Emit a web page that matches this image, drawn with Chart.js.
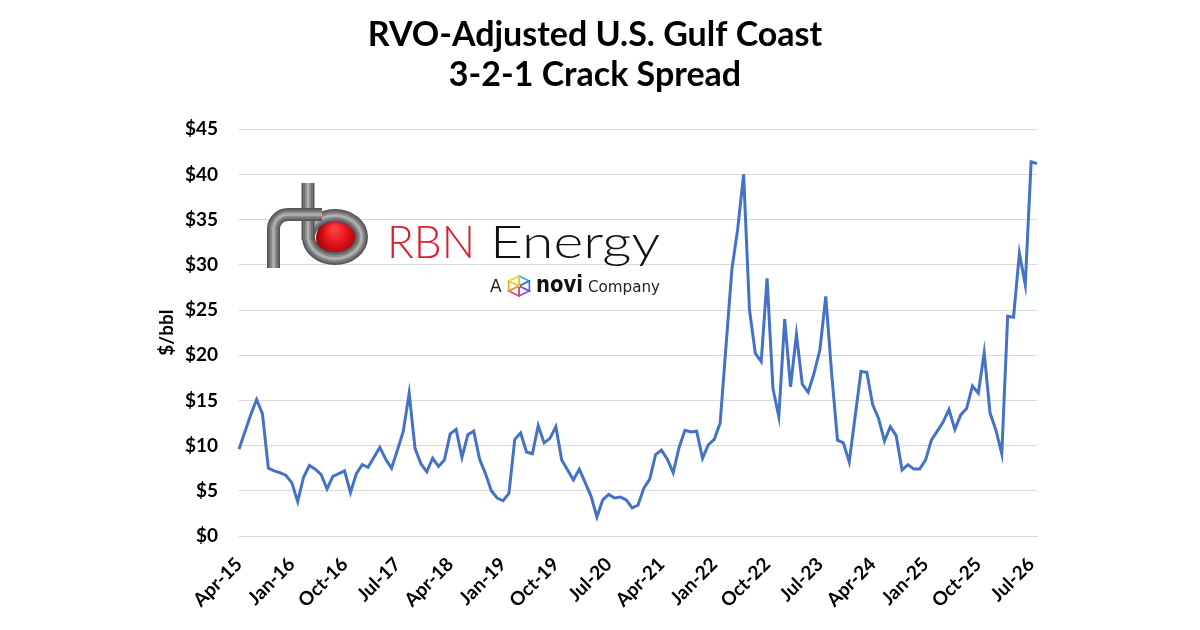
<!DOCTYPE html>
<html>
<head>
<meta charset="utf-8">
<script src="https://cdn.jsdelivr.net/npm/chart.js@4.4.1/dist/chart.umd.min.js"></script>
<style>
  html, body { margin: 0; padding: 0; background: #fff; }
  #wrap { width: 1200px; height: 630px; }
</style>
</head>
<body>
<div id="wrap"><canvas id="grafico" width="1200" height="630"></canvas></div>
<script>
// ==============================
// DATA
// ==============================
const START_YEAR = 2015;
const START_MONTH = 3; // April (0-based)
const MONTH_NAMES = ["Jan","Feb","Mar","Apr","May","Jun","Jul","Aug","Sep","Oct","Nov","Dec"];

const tickLabels = [
  "Apr-15","Jan-16","Oct-16","Jul-17","Apr-18","Jan-19","Oct-19","Jul-20",
  "Apr-21","Jan-22","Oct-22","Jul-23","Apr-24","Jan-25","Oct-25","Jul-26"
];

// $/bbl, monthly from Apr-15
const crackSpread = [
  9.6, 11.5, 13.4, 15.1, 13.5, 7.5, 7.2, 7.0, 6.7, 5.9,
  3.8, 6.5, 7.8, 7.4, 6.8, 5.2, 6.6, 6.9, 7.2, 4.8,
  6.9, 7.9, 7.6, 8.7, 9.8, 8.5, 7.5, 9.5, 11.6, 15.8,
  9.7, 8.0, 7.1, 8.6, 7.7, 8.4, 11.3, 11.8, 8.7, 11.2,
  11.6, 8.5, 6.9, 5.0, 4.2, 3.9, 4.7, 10.7, 11.4, 9.3,
  9.1, 12.2, 10.3, 10.8, 12.1, 8.4, 7.3, 6.2, 7.4, 5.9,
  4.4, 2.1, 4.0, 4.6, 4.2, 4.3, 4.0, 3.1, 3.4, 5.3,
  6.3, 9.0, 9.5, 8.5, 7.0, 9.8, 11.7, 11.5, 11.6, 8.6,
  10.1, 10.7, 12.5, 21.0, 29.5, 34.0, 40.0, 25.0, 20.2, 19.3,
  28.5, 16.3, 13.2, 24.0, 16.5, 22.3, 16.8, 15.9, 18.0, 20.6,
  26.5, 18.0, 10.6, 10.3, 8.2, 13.2, 18.2, 18.1, 14.5, 13.0,
  10.5, 12.1, 11.1, 7.3, 7.9, 7.4, 7.4, 8.4, 10.6, 11.6,
  12.6, 14.0, 11.8, 13.4, 14.1, 16.6, 15.8, 20.3, 13.6, 11.7,
  9.1, 24.3, 24.2, 31.3, 27.8, 41.4, 41.2
];

const yTicks = [0, 5, 10, 15, 20, 25, 30, 35, 40, 45];

const months = crackSpread.map((_, i) => {
  const m = (START_MONTH + i) % 12;
  const y = START_YEAR + Math.floor((START_MONTH + i) / 12);
  return `${MONTH_NAMES[m]}-${String(y).slice(2)}`;
});

const FONT = "Lato, 'Open Sans', sans-serif";

// ==============================
// LOGO
// ==============================
function pipe(ctx, draw){
  ctx.save();
  ctx.lineCap = "butt";
  ctx.lineJoin = "round";
  [[13, "#555"], [10, "#6f6f6f"], [6, "#8d8d8d"], [2.5, "#b0b0b0"]].forEach(([lw, c]) => {
    ctx.strokeStyle = c;
    ctx.lineWidth = lw;
    ctx.beginPath(); draw(); ctx.stroke();
  });
  ctx.restore();
}

function scaledText(ctx, s, x, y, width){
  const w = ctx.measureText(s).width;
  ctx.save();
  ctx.translate(x, y);
  ctx.scale(width / w, 1);
  ctx.fillText(s, 0, 0);
  ctx.restore();
}

const logoPlugin = {
  id: "logo",
  afterDraw(chart){
    const ctx = chart.ctx;

    // red ball (behind the pipe)
    const g = ctx.createRadialGradient(334, 228, 2, 338, 238, 22);
    g.addColorStop(0, "#ff4040");
    g.addColorStop(0.5, "#e0121b");
    g.addColorStop(1, "#8a0508");
    ctx.save();
    ctx.fillStyle = g;
    ctx.beginPath();
    ctx.arc(337, 238, 21, 0, Math.PI * 2);
    ctx.fill();
    ctx.restore();

    // bowl of the "b"
    pipe(ctx, () => { ctx.ellipse(335, 237, 26.5, 21.5, 0, 0, Math.PI * 2); });
    // stem of the "b"
    pipe(ctx, () => { ctx.moveTo(308, 183); ctx.lineTo(308, 240); });
    // leg and shoulder of the "r"
    pipe(ctx, () => {
      ctx.moveTo(273.5, 268);
      ctx.lineTo(273.5, 229);
      ctx.arc(288, 229, 14.5, Math.PI, Math.PI * 1.5);
      ctx.lineTo(322, 214.5);
    });

    ctx.save();
    ctx.textBaseline = "alphabetic";
    ctx.textAlign = "left";

    // "RBN Energy"
    ctx.font = "300 45px Lato, sans-serif";
    ctx.fillStyle = "#d8202e";
    scaledText(ctx, "RBN", 387, 258, 88);
    ctx.fillStyle = "#111";
    scaledText(ctx, "Energy", 490, 258, 170);

    // "A novi Company"
    ctx.fillStyle = "#222";
    ctx.font = "17px 'DejaVu Sans', sans-serif";
    ctx.fillText("A", 490, 292);
    ctx.font = "bold 23px 'DejaVu Sans', sans-serif";
    ctx.fillStyle = "#111";
    scaledText(ctx, "novi", 536, 292, 47);
    ctx.fillStyle = "#222";
    ctx.font = "16px 'DejaVu Sans', sans-serif";
    scaledText(ctx, "Company", 588, 292, 72);

    // novi mark
    const cols = ["#2bb3c0", "#3a6fd8", "#8b4fc9", "#e0457b", "#f29a2e", "#f2d22e"];
    const cx = 519, cy = 286;
    ctx.lineWidth = 1.6;
    for (let k = 0; k < 6; k++) {
      const a1 = Math.PI / 3 * k - Math.PI / 2;
      const a2 = Math.PI / 3 * (k + 1) - Math.PI / 2;
      ctx.strokeStyle = cols[k];
      ctx.beginPath();
      ctx.moveTo(cx + 12 * Math.cos(a1), cy + 10 * Math.sin(a1));
      ctx.lineTo(cx + 12 * Math.cos(a2), cy + 10 * Math.sin(a2));
      ctx.lineTo(cx, cy);
      ctx.closePath();
      ctx.stroke();
    }
    ctx.restore();
  }
};

// ==============================
// CHART
// ==============================
new Chart(document.getElementById("grafico"), {
  type: "line",
  data: {
    labels: months,
    datasets: [{
      label: "3-2-1 Crack Spread",
      data: crackSpread,
      borderColor: "#4472C4",
      borderWidth: 3,
      pointRadius: 0,
      tension: 0,
      fill: false
    }]
  },
  options: {
    responsive: false,
    animation: false,
    devicePixelRatio: 1,
    layout: { padding: { left: 153, right: 163, top: 0, bottom: 0 } },
    plugins: {
      legend: { display: false },
      tooltip: { enabled: false },
      title: {
        display: true,
        text: ["RVO-Adjusted U.S. Gulf Coast", "3-2-1 Crack Spread"],
        color: "#000",
        font: { family: FONT, size: 34, weight: "bold", lineHeight: 1.18 },
        padding: { top: 15, bottom: 34 }
      }
    },
    scales: {
      x: {
        type: "category",
        offset: false,
        grid: { display: false, drawTicks: false },
        border: { display: true, color: "#d9d9d9", width: 1 },
        ticks: {
          autoSkip: false,
          maxRotation: 45,
          minRotation: 45,
          padding: 17,
          color: "#000",
          font: { family: FONT, size: 19, weight: "bold" },
          callback: (v, i) => (i % 9 === 0 ? tickLabels[i / 9] : null)
        },
        afterFit: (s) => { s.height = 94; }
      },
      y: {
        min: 0,
        max: 45,
        afterBuildTicks: (s) => { s.ticks = yTicks.map(v => ({ value: v })); },
        grid: { color: "#d9d9d9", lineWidth: 1, drawTicks: false },
        border: { display: false },
        ticks: {
          padding: 21,
          color: "#000",
          font: { family: FONT, size: 19, weight: "bold" },
          callback: (v) => "$" + v
        },
        title: {
          display: true,
          text: "$/bbl",
          color: "#000",
          font: { family: FONT, size: 19, weight: "bold" },
          padding: { top: 2, bottom: 0 }
        },
        afterFit: (s) => { s.width = 86; }
      }
    }
  },
  plugins: [logoPlugin]
});
</script>
</body>
</html>
